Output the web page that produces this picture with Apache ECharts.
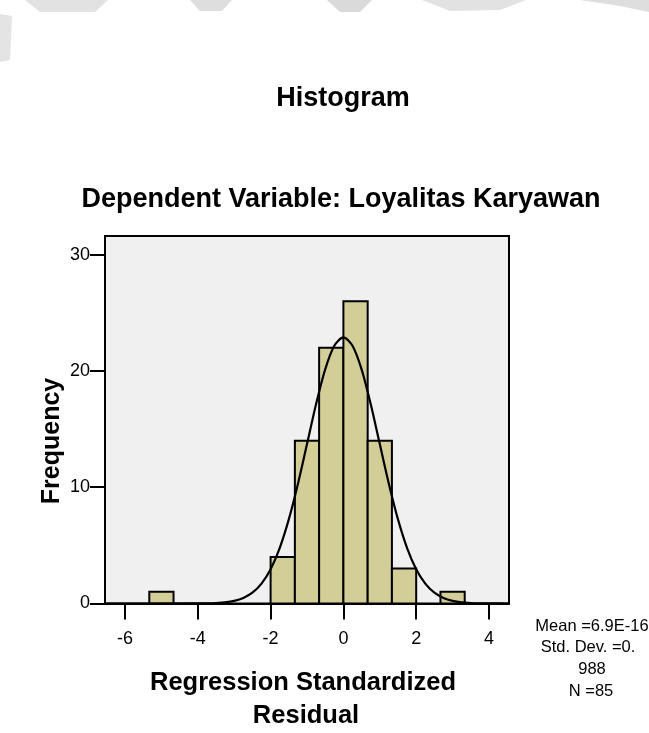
<!DOCTYPE html>
<html>
<head>
<meta charset="utf-8">
<script src="https://cdn.jsdelivr.net/npm/echarts@6/dist/echarts.min.js"></script>
<style>
  html, body { margin: 0; padding: 0; background: #fff; }
  #main { width: 649px; height: 733px; }
</style>
</head>
<body>
<div id="main"></div>
<script>
// histogram bins (regression standardized residual), width 2/3
var binStart = [-5.333, -2, -1.333, -0.667, 0, 0.667, 1.333, 2.667];
var binEnd   = [-4.667, -1.333, -0.667, 0, 0.667, 1.333, 2, 3.333];
var counts   = [1, 4, 14, 22, 26, 14, 3, 1];

// normal curve
var curveX = [-6.55, -4, -3.75, -3.5, -3.25, -3, -2.75, -2.5, -2.25, -2, -1.75, -1.5, -1.25, -1, -0.75, -0.5, -0.25, 0,
              0.25, 0.5, 0.75, 1, 1.25, 1.5, 1.75, 2, 2.25, 2.5, 2.75, 3, 3.25, 3.5, 3.75, 4, 4.55];
var curveY = [0, 0.006, 0.017, 0.043, 0.10, 0.23, 0.48, 0.93, 1.71, 2.95, 4.77, 7.23, 10.28, 13.71, 17.15, 20.13, 22.16, 22.88,
              22.16, 20.13, 17.15, 13.71, 10.28, 7.23, 4.77, 2.95, 1.71, 0.93, 0.48, 0.23, 0.10, 0.043, 0.017, 0.006, 0];

var xTicks = [-6, -4, -2, 0, 2, 4];
var yTicks = [0, 10, 20, 30];

var statLines = ['Mean =6.9E-16', 'Std. Dev. =0.', '988', 'N =85'];

var myChart = echarts.init(document.getElementById('main'));
var font = 'Liberation Sans, Arial, sans-serif';

var barData = [];
for (var i = 0; i < counts.length; i++) {
    barData.push([binStart[i], binEnd[i], counts[i]]);
}
var curveData = [];
for (var j = 0; j < curveX.length; j++) {
    curveData.push([curveX[j], curveY[j]]);
}

// faint watermark at the top, then titles / axis names / stats
var graphics = [
    { type: 'polygon', silent: true, shape: { points: [[25, 0], [108, 0], [95, 12], [40, 12]] }, style: { fill: '#e2e2e2' } },
    { type: 'polygon', silent: true, shape: { points: [[190, 0], [232, 0], [222, 11], [200, 11]] }, style: { fill: '#dedede' } },
    { type: 'polygon', silent: true, shape: { points: [[327, 0], [372, 0], [360, 12], [340, 12]] }, style: { fill: '#dadada' } },
    { type: 'polygon', silent: true, shape: { points: [[422, 0], [526, 0], [500, 10], [450, 11]] }, style: { fill: '#e2e2e2' } },
    { type: 'polygon', silent: true, shape: { points: [[580, 0], [649, 0], [649, 12], [620, 6]] }, style: { fill: '#dedede' } },
    { type: 'polygon', silent: true, shape: { points: [[0, 14], [12, 16], [10, 60], [0, 62]] }, style: { fill: '#e4e4e4' } },
    { type: 'text', style: { text: 'Histogram', x: 343, y: 99, align: 'center', verticalAlign: 'middle',
        font: 'bold 27px ' + font, fill: '#000' } },
    { type: 'text', style: { text: 'Dependent Variable: Loyalitas Karyawan', x: 341, y: 200, align: 'center', verticalAlign: 'middle',
        font: 'bold 27px ' + font, fill: '#000' } },
    { type: 'text', x: 52, y: 441, rotation: Math.PI / 2,
      style: { text: 'Frequency', x: 0, y: 0, align: 'center', verticalAlign: 'middle',
        font: 'bold 25px ' + font, fill: '#000' } },
    { type: 'text', style: { text: 'Regression Standardized', x: 303, y: 683, align: 'center', verticalAlign: 'middle',
        font: 'bold 25.5px ' + font, fill: '#000' } },
    { type: 'text', style: { text: 'Residual', x: 306, y: 716, align: 'center', verticalAlign: 'middle',
        font: 'bold 25.5px ' + font, fill: '#000' } }
];
var statX = [592, 588, 592, 591];
for (var k = 0; k < statLines.length; k++) {
    graphics.push({ type: 'text', style: { text: statLines[k], x: statX[k], y: 626 + k * 21.8, align: 'center',
        verticalAlign: 'middle', font: '16.5px ' + font, fill: '#000' } });
}

option = {
    backgroundColor: '#fff',
    animation: false,
    grid: {
        left: 105, right: 140, top: 236, bottom: 129.5,
        show: true, backgroundColor: '#f0f0f0', borderColor: '#000', borderWidth: 2
    },
    xAxis: {
        type: 'value', min: -6.55, max: 4.55,
        axisLine: { show: true, lineStyle: { color: '#000', width: 2 } },
        axisTick: { show: true, length: 16, customValues: xTicks, lineStyle: { color: '#000', width: 2 } },
        axisLabel: { customValues: xTicks, margin: 27, color: '#000', fontSize: 18, fontFamily: font },
        splitLine: { show: false }
    },
    yAxis: {
        type: 'value', min: 0, max: 31.6,
        axisLine: { show: true, onZero: false, lineStyle: { color: '#000', width: 2 } },
        axisTick: { show: true, length: 15, customValues: yTicks, lineStyle: { color: '#000', width: 2 } },
        axisLabel: { customValues: yTicks, margin: 15, color: '#000', fontSize: 18, fontFamily: font,
            padding: [8, 0, 0, 0] },
        splitLine: { show: false }
    },
    graphic: graphics,
    series: [
        {
            type: 'custom',
            data: barData,
            z: 2,
            renderItem: function (params, api) {
                var p0 = api.coord([api.value(0), api.value(2)]);
                var p1 = api.coord([api.value(1), 0]);
                return {
                    type: 'rect',
                    shape: { x: p0[0], y: p0[1], width: p1[0] - p0[0], height: p1[1] - p0[1] },
                    style: { fill: '#d3ce98', stroke: '#000', lineWidth: 2 }
                };
            }
        },
        {
            type: 'line',
            data: curveData,
            z: 3,
            smooth: 0.3,
            showSymbol: false,
            lineStyle: { color: '#000', width: 2.2 }
        }
    ]
};
myChart.setOption(option);
</script>
</body>
</html>
